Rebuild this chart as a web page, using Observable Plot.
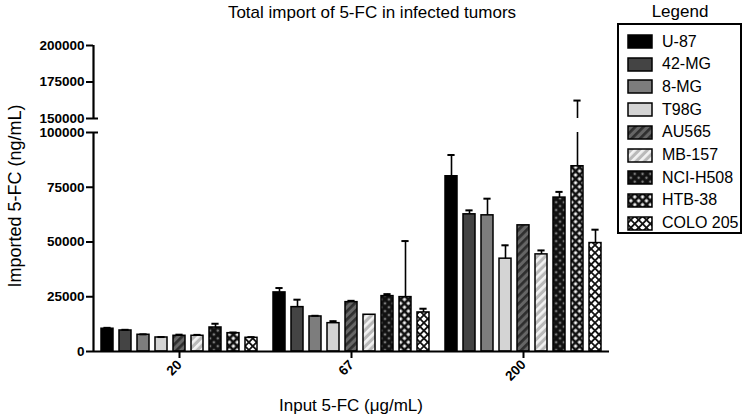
<!DOCTYPE html>
<html><head><meta charset="utf-8">
<script src="https://cdn.jsdelivr.net/npm/d3@7"></script>
<script src="https://cdn.jsdelivr.net/npm/@observablehq/plot@0.6"></script>
<style>
body{margin:0;background:#fff;font-family:"Liberation Sans",Arial,sans-serif;color:#000;}
#wrap{position:relative;width:750px;height:417px;overflow:hidden;background:#fff;}
#wrap svg.main{position:absolute;left:0;top:0;}
.lbl{position:absolute;white-space:nowrap;line-height:1;}
#legend{position:absolute;left:617px;top:23px;width:125px;height:211px;border:2px solid #000;box-sizing:border-box;}
.item{position:absolute;left:8px;height:20px;display:flex;align-items:center;font-size:16px;}
.item svg{margin-right:9px;}
</style></head><body><div id="wrap"></div>
<script>
const doses = ["20", "67", "200"];
const series = ["U-87", "42-MG", "8-MG", "T98G", "AU565", "MB-157", "NCI-H508", "HTB-38", "COLO 205"];
const mean20  = [10400, 9600, 7640, 6400, 7180, 7180, 10970, 8370, 6260];
const err20   = [400, 300, 200, 200, 500, 400, 1700, 300, 300];
const mean67  = [26980, 20260, 16000, 12940, 22540, 16780, 25290, 24830, 17830];
const err67   = [2000, 3400, 300, 900, 600, 0, 900, 25600, 1700];
const mean200 = [80020, 62640, 62180, 42390, 57610, 44350, 70280, 84590, 49520];
const err200  = [9700, 1800, 7600, 6100, 0, 1800, 2600, 77700, 6100];
const yTicks = [0, 25000, 50000, 75000, 100000, 150000, 175000, 200000];
const fills = ["#000000", "#444444", "#7d7d7d", "#d4d4d4", "url(#pAU)", "url(#pMB)", "url(#pNCI)", "url(#pHTB)", "url(#pCOLO)"];

const means = [mean20, mean67, mean200];
const errs = [err20, err67, err200];
const table = [];
doses.forEach((dose, g) => series.forEach((name, s) => {
  table.push({dose, g, s, series: name, mean: means[g][s], err: errs[g][s], hi: means[g][s] + errs[g][s]});
}));

// layout (in group units: one group step = 1)
const STEP = 18 / 172, BW = 12 / 172, CAP = 3.6 / 172;
const xDomain = [-0.5, 2.5];
const cx = d => d.g + (d.s - 4) * STEP;
const LOW_TOP = 100000, HIGH_BOTTOM = 150000;
const withErr = table.filter(d => d.err > 0);
const upperErr = withErr.filter(d => d.hi > HIGH_BOTTOM);
const axisSegs = [{y1: 0, y2: LOW_TOP}, {y1: HIGH_BOTTOM, y2: 200000}];

const svg = Plot.plot({
  width: 750, height: 417,
  marginLeft: 93, marginRight: 141, marginTop: 45, marginBottom: 66,
  style: {fontFamily: "Liberation Sans, Arial, sans-serif", color: "#000", background: "transparent"},
  x: {type: "linear", domain: xDomain, axis: null},
  y: {type: "linear", domain: [0, LOW_TOP, HIGH_BOTTOM, 200000], range: [351, 132, 118, 45], axis: null},
  color: {domain: series, range: fills},
  marks: [
    Plot.rectY(table, {x1: d => cx(d) - BW / 2, x2: d => cx(d) + BW / 2, y1: 0, y2: "mean", fill: "series", stroke: "#000", strokeWidth: 1.5}),
    Plot.ruleX(withErr, {x: cx, y1: "mean", y2: d => Math.min(d.hi, LOW_TOP), stroke: "#000", strokeWidth: 1.6}),
    Plot.ruleX(upperErr, {x: cx, y1: HIGH_BOTTOM, y2: "hi", stroke: "#000", strokeWidth: 1.6}),
    Plot.ruleY(withErr, {y: "hi", x1: d => cx(d) - CAP, x2: d => cx(d) + CAP, stroke: "#000", strokeWidth: 2}),
    Plot.ruleX(axisSegs, {x: () => xDomain[0], y1: "y1", y2: "y2", stroke: "#000", strokeWidth: 2.2}),
    Plot.ruleY([LOW_TOP, HIGH_BOTTOM], {x1: xDomain[0], x2: xDomain[0] + 5 / 172, stroke: "#000", strokeWidth: 2}),
    Plot.ruleY([0], {stroke: "#000", strokeWidth: 2.2}),
    Plot.axisY({ticks: yTicks, tickFormat: d => String(d), tickSize: 7, tickPadding: 2, strokeWidth: 2, fontSize: 13.5, fontWeight: "bold", label: null}),
    Plot.axisX({ticks: [0, 1, 2], tickFormat: i => doses[i], tickSize: 7, tickPadding: 4, tickRotate: -45, strokeWidth: 2, fontSize: 13.5, fontWeight: "bold", label: null})
  ]
});
svg.classList.add("main");
const defs = document.createElementNS("http://www.w3.org/2000/svg", "defs");
defs.innerHTML = `
<pattern id="pAU" patternUnits="userSpaceOnUse" width="5.8" height="5.8" patternTransform="rotate(45)">
  <rect width="5.8" height="5.8" fill="#666"/><rect width="2.7" height="5.8" fill="#2e2e2e"/></pattern>
<pattern id="pMB" patternUnits="userSpaceOnUse" width="5.8" height="5.8" patternTransform="rotate(45)">
  <rect width="5.8" height="5.8" fill="#b9b9b9"/><rect width="2.7" height="5.8" fill="#f2f2f2"/></pattern>
<pattern id="pNCI" patternUnits="userSpaceOnUse" width="5.5" height="5.5" patternTransform="rotate(45)">
  <rect width="5.5" height="5.5" fill="#111"/><rect x="1.6" y="1.6" width="2.3" height="2.3" fill="#7a7a7a"/></pattern>
<pattern id="pHTB" patternUnits="userSpaceOnUse" width="5.5" height="5.5" patternTransform="rotate(45)">
  <rect width="5.5" height="5.5" fill="#111"/><rect x="1.3" y="1.3" width="2.9" height="2.9" fill="#f2f2f2"/></pattern>
<pattern id="pCOLO" patternUnits="userSpaceOnUse" width="5.5" height="5.5" patternTransform="rotate(45)">
  <rect width="5.5" height="5.5" fill="#111"/><rect x="0.9" y="0.9" width="3.7" height="3.7" fill="#fff"/></pattern>`;
svg.insertBefore(defs, svg.firstChild);

const wrap = document.getElementById("wrap");
wrap.appendChild(svg);

function addLabel(text, css) {
  const d = document.createElement("div");
  d.className = "lbl";
  d.textContent = text;
  Object.assign(d.style, css);
  wrap.appendChild(d);
}
addLabel("Total import of 5-FC in infected tumors", {left: "372px", top: "12px", fontSize: "17px", transform: "translate(-50%,-50%)"});
addLabel("Imported 5-FC (ng/mL)", {left: "15px", top: "196px", fontSize: "18px", transform: "translate(-50%,-50%) rotate(-90deg)"});
addLabel("Input 5-FC (\u03bcg/mL)", {left: "351px", top: "405px", fontSize: "17px", transform: "translate(-50%,-50%)"});
addLabel("Legend", {left: "680px", top: "11px", fontSize: "17px", transform: "translate(-50%,-50%)"});

const legend = document.createElement("div");
legend.id = "legend";
series.forEach((name, i) => {
  const it = document.createElement("div");
  it.className = "item";
  it.style.top = (6.5 + i * 22.7) + "px";
  it.innerHTML = `<svg width="26" height="15"><rect x="1" y="1" width="24" height="13" fill="${fills[i]}" stroke="#000" stroke-width="1.5"/></svg><span></span>`;
  it.querySelector("span").textContent = name;
  legend.appendChild(it);
});
wrap.appendChild(legend);
</script></body></html>
